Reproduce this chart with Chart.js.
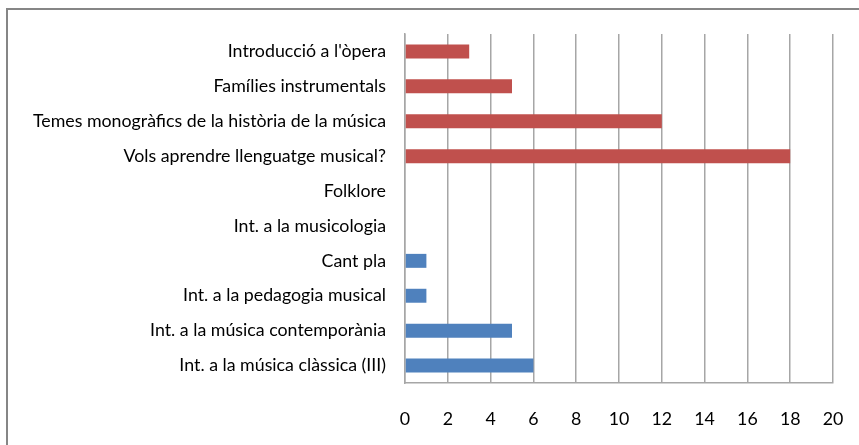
<!DOCTYPE html>
<html>
<head>
<meta charset="utf-8">
<script src="https://cdn.jsdelivr.net/npm/chart.js@4"></script>
<style>
  html, body { margin: 0; padding: 0; background: #fff; }
  #wrap { width: 859px; height: 445px; }
</style>
</head>
<body>
<div id="wrap"><canvas id="chart" width="859" height="445"></canvas></div>
<script>
// categories, top to bottom
var categories = [
    "Introducció a l'òpera",
    'Famílies instrumentals',
    'Temes monogràfics de la història de la música',
    'Vols aprendre llenguatge musical?',
    'Folklore',
    'Int. a la musicologia',
    'Cant pla',
    'Int. a la pedagogia musical',
    'Int. a la música contemporània',
    'Int. a la música clàssica (III)'
];
var redValues  = [3, 5, 12, 18, null, null, null, null, null, null];
var blueValues = [null, null, null, null, null, null, 1, 1, 5, 6];
var xTicks = [0, 2, 4, 6, 8, 10, 12, 14, 16, 18, 20];

var frame = {
    id: 'frame',
    beforeDraw: function(chart) {
        var c = chart.ctx;
        c.save();
        c.fillStyle = '#fff';
        c.fillRect(0, 0, chart.width, chart.height);
        c.strokeStyle = '#868686';
        c.lineWidth = 2;
        c.beginPath();
        c.moveTo(7, chart.height + 2);
        c.lineTo(7, 9);
        c.lineTo(chart.width + 2, 9);
        c.stroke();
        c.restore();
    }
};

var ctx = document.getElementById('chart').getContext('2d');
var chart = new Chart(ctx, {
    type: 'bar',
    data: {
        labels: categories,
        datasets: [{
            data: redValues,
            backgroundColor: '#C0504D',
            barPercentage: 0.4,
            categoryPercentage: 1
        }, {
            data: blueValues,
            backgroundColor: '#4F81BD',
            barPercentage: 0.4,
            categoryPercentage: 1
        }]
    },
    options: {
        indexAxis: 'y',
        responsive: false,
        animation: false,
        grouped: false,
        layout: { padding: { top: 34, right: 26, left: 0, bottom: 0 } },
        plugins: { legend: { display: false }, tooltip: { enabled: false } },
        scales: {
            x: {
                min: 0,
                max: 20,
                afterBuildTicks: function(axis) {
                    axis.ticks = xTicks.map(function(v) { return { value: v }; });
                },
                afterFit: function(axis) {
                    axis.height = 62;
                    axis.paddingLeft = 0;
                    axis.paddingRight = 0;
                },
                grid: { color: '#a6a6a6', lineWidth: 1.5, drawTicks: false },
                border: { display: true, color: '#a6a6a6', width: 1.5 },
                ticks: { color: '#000', padding: 26, font: { family: 'Lato', size: 17.8 } }
            },
            y: {
                afterFit: function(axis) { axis.width = 405; },
                grid: { display: false, drawTicks: false },
                border: { display: true, color: '#a6a6a6', width: 1.5 },
                ticks: { color: '#000', padding: 19, font: { family: 'Lato', size: 17.8 } }
            }
        }
    },
    plugins: [frame]
});
</script>
</body>
</html>
